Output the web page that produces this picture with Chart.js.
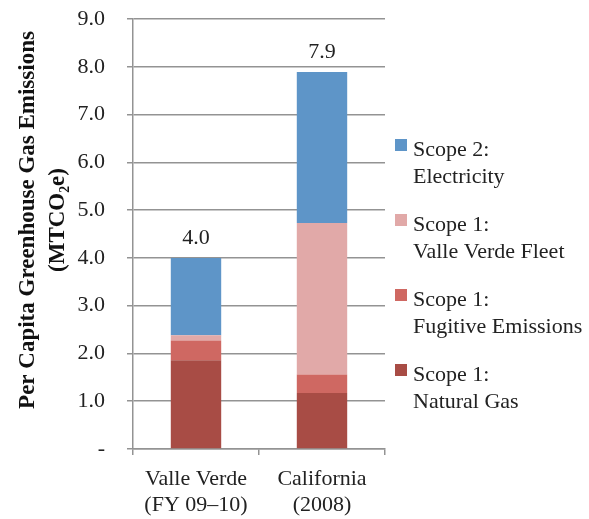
<!DOCTYPE html>
<html>
<head>
<meta charset="utf-8">
<script src="https://cdn.jsdelivr.net/npm/chart.js@4"></script>
<style>
  html, body { margin: 0; padding: 0; background: #fff; }
  #wrap { width: 589px; height: 519px; }
</style>
</head>
<body>
<div id="wrap"><canvas id="chart" width="589" height="519"></canvas></div>
<script>
// Data
const categories = [["Valle Verde", "(FY 09\u201310)"], ["California", "(2008)"]];
const naturalGas = [1.86, 1.17];
const fugitive = [0.41, 0.39];
const fleet = [0.11, 3.17];
const electricity = [1.62, 3.16];
const yTicks = [0, 1, 2, 3, 4, 5, 6, 7, 8, 9];
const yTitle = ["Per Capita Greenhouse Gas Emissions", "(MTCO\u2082e)"];

const seriesNames = [
    ["Scope 1:", "Natural Gas"],
    ["Scope 1:", "Fugitive Emissions"],
    ["Scope 1:", "Valle Verde Fleet"],
    ["Scope 2:", "Electricity"],
];
const seriesColors = ["#a84c45", "#cf6862", "#e1a9a8", "#5e95c8"];

const FONT = "'Liberation Serif', 'Times New Roman', serif";
const GRID = "#939393";

// Totals above each bar
const totalsPlugin = {
    id: "totals",
    afterDatasetsDraw(chart) {
        const ctx = chart.ctx;
        const y = chart.scales.y;
        ctx.save();
        ctx.font = "22px " + FONT;
        ctx.fillStyle = "#222";
        ctx.textAlign = "center";
        ctx.textBaseline = "bottom";
        categories.forEach((c, i) => {
            const total = naturalGas[i] + fugitive[i] + fleet[i] + electricity[i];
            const bar = chart.getDatasetMeta(3).data[i];
            ctx.fillText(total.toFixed(1), bar.x, y.getPixelForValue(total) - 9);
        });
        ctx.restore();
    }
};

// Rotated y title, sits a little above the middle of the axis like the original
const yTitlePlugin = {
    id: "yTitle",
    afterDraw(chart) {
        const ctx = chart.ctx;
        const cy = (chart.chartArea.top + chart.chartArea.bottom) / 2 - 14;
        ctx.save();
        ctx.font = "bold 23px " + FONT;
        ctx.fillStyle = "#111";
        ctx.textAlign = "center";
        ctx.textBaseline = "middle";
        [28, 58].forEach((x, i) => {
            ctx.save();
            ctx.translate(x, cy);
            ctx.rotate(-Math.PI / 2);
            ctx.fillText(yTitle[i], 0, 0);
            ctx.restore();
        });
        ctx.restore();
    }
};

// Legend on the right, top item = last series
const legendPlugin = {
    id: "sideLegend",
    afterDraw(chart) {
        const ctx = chart.ctx;
        const x0 = chart.chartArea.right + 10;
        ctx.save();
        ctx.font = "22px " + FONT;
        ctx.textBaseline = "alphabetic";
        for (let k = 0; k < seriesNames.length; k++) {
            const idx = seriesNames.length - 1 - k;
            const top = 139 + k * 75;
            ctx.fillStyle = seriesColors[idx];
            ctx.fillRect(x0, top, 12, 12);
            ctx.fillStyle = "#222";
            ctx.fillText(seriesNames[idx][0], x0 + 18, top + 17);
            ctx.fillText(seriesNames[idx][1], x0 + 18, top + 44);
        }
        ctx.restore();
    }
};

const values = [naturalGas, fugitive, fleet, electricity];

new Chart(document.getElementById("chart"), {
    type: "bar",
    data: {
        labels: categories,
        datasets: values.map((v, i) => ({
            label: seriesNames[i].join(" "),
            data: v,
            backgroundColor: seriesColors[i],
            borderWidth: 0,
            barPercentage: 0.4,
            categoryPercentage: 1.0,
        })),
    },
    options: {
        responsive: false,
        animation: false,
        layout: { padding: { top: 0, right: 204, bottom: 0, left: 4 } },
        plugins: {
            legend: { display: false },
            tooltip: { enabled: false },
        },
        scales: {
            x: {
                stacked: true,
                border: { display: true, color: GRID, width: 1.5 },
                grid: { display: true, drawOnChartArea: false, drawTicks: true, tickLength: 6, color: GRID, lineWidth: 1.5, offset: true },
                ticks: { color: "#222", font: { family: FONT, size: 22, lineHeight: 1.15 }, padding: 12, maxRotation: 0 },
                afterFit: (scale) => { scale.height = 70; },
            },
            y: {
                stacked: true,
                min: 0,
                max: 9,
                afterBuildTicks: (scale) => { scale.ticks = yTicks.map((v) => ({ value: v })); },
                border: { display: true, color: GRID, width: 1.5 },
                grid: { color: GRID, lineWidth: 1.5, tickLength: 6 },
                ticks: {
                    color: "#222",
                    font: { family: FONT, size: 22 },
                    padding: 22,
                    callback: (v) => (v === 0 ? "-" : Number(v).toFixed(1)),
                },
                afterFit: (scale) => {
                    scale.width = 129;
                    scale.paddingTop = 19;
                    scale.paddingBottom = 0;
                },
            },
        },
    },
    plugins: [totalsPlugin, yTitlePlugin, legendPlugin],
});
</script>
</body>
</html>
